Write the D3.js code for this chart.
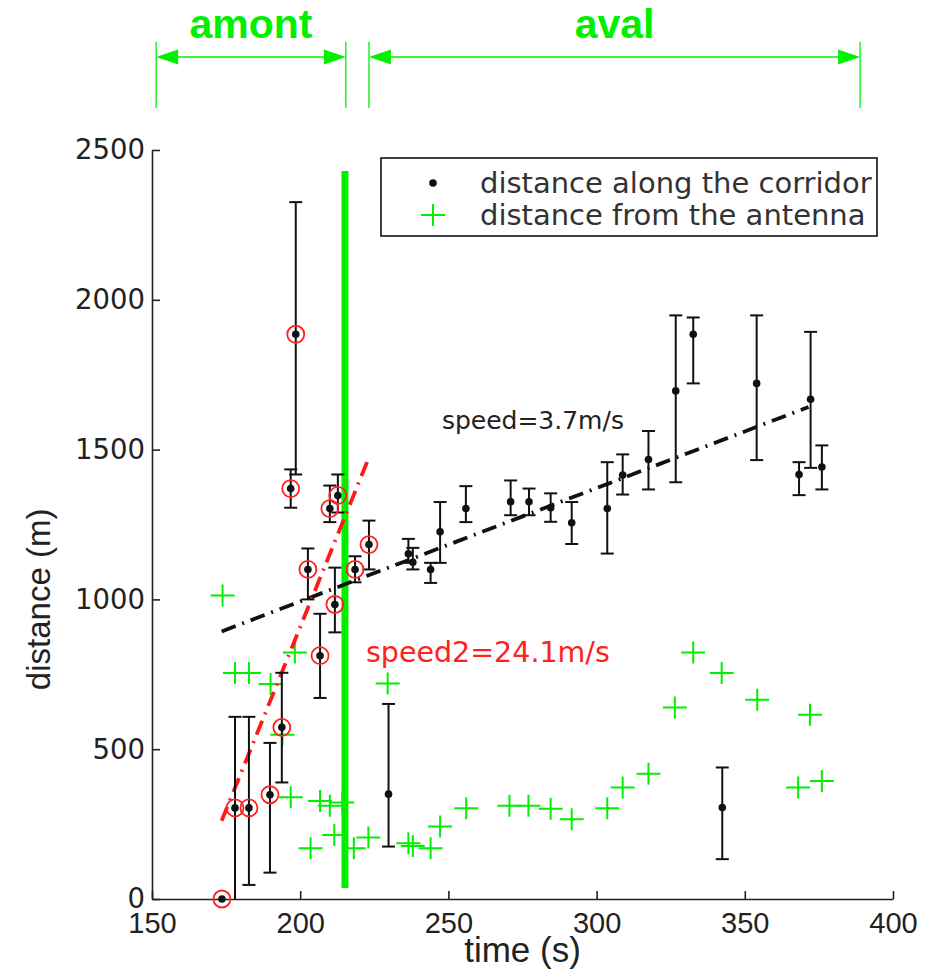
<!DOCTYPE html>
<html><head><meta charset="utf-8">
<script src="https://cdn.jsdelivr.net/npm/d3@7"></script>
<style>body{margin:0;background:#fff}svg{display:block}</style>
</head><body>
<script>
// ---- data ----
const corridorTime = [173.6,178,182.7,189.8,193.8,196.8,198.5,202.6,206.7,210,211.7,212.7,218.5,223.2,229.8,236.5,238,244,247.2,255.9,271,277.2,284.5,291.6,303.6,308.8,317.5,326.7,332.6,342.4,354,368.3,372.2,376];
const corridorDist = [0,304,304,348,573,1370,1885,1100,812,1303,983,1347,1100,1183,350,1152,1124,1100,1226,1303,1326,1326,1306,1256,1303,1415,1467,1696,1885,305,1721,1417,1668,1442];
const errHigh = [0,608,608,521,755,1434,2326,1170,952,1380,1106,1417,1144,1263,651,1202,1172,1122,1325,1378,1397,1370,1354,1325,1458,1484,1562,1948,1941,439,1948,1458,1893,1514];
const errLow  = [0,0,47,88,389,1306,1417,1000,671,1258,890,1290,1057,1100,175,1122,1100,1055,1122,1258,1281,1281,1259,1185,1153,1350,1367,1391,1721,133,1465,1348,1439,1367];
const circledCount = 14;
const antennaTime = [173.8,178,182.7,190,194,196.8,198.2,203.5,206.7,210,211.5,214.2,218.1,223,229.5,236.5,238,244,247.2,256,270.6,277,284.5,291.6,303.6,308.8,317.5,326.4,332.6,342.2,354.2,368,372,376];
const antennaDist = [1013,754,754,718,548,340,823,169,327,311,214,322,169,205,719,186,177,169,242,303,311,311,301,266,303,372,418,639,823,754,665,372,615,394];
const fitTime = [173.5, 371.5];
const fitDist = [893, 1642];
const fit2Time = [173.5, 223];
const fit2Dist = [261, 1469];
const zoneNames = ["amont", "aval"];
const zoneStart = [151.4, 223.2];
const zoneEnd = [215.4, 388.9];
const boundaryTime = 215.1;
const boundaryDist = [37, 2430];
const xTicks = [150, 200, 250, 300, 350, 400];
const yTicks = [0, 500, 1000, 1500, 2000, 2500];
const legendLabels = ["distance along the corridor", "distance from the antenna"];
const fitLabel = "speed=3.7m/s";
const fit2Label = "speed2=24.1m/s";
const fitLabelPos = [247.8, 1568];
const fit2LabelPos = [222.2, 791];

// ---- chart ----
const W = 930, H = 974;
const GREEN = "#00f000";
const svg = d3.select("body").append("svg").attr("width", W).attr("height", H);
const x = d3.scaleLinear().domain([150, 400]).range([152, 893]);
const y = d3.scaleLinear().domain([0, 2500]).range([899, 150]);

// zones on top
const zones = zoneNames.map((n, i) => ({name: n, s: zoneStart[i], e: zoneEnd[i]}));
const zg = svg.append("g");
zones.forEach(z => {
  const xs = x(z.s), xe = x(z.e), ay = 57;
  [xs, xe].forEach(xx => zg.append("line").attr("x1", xx).attr("x2", xx).attr("y1", 42).attr("y2", 108)
    .attr("stroke", GREEN).attr("stroke-width", 1.3));
  zg.append("line").attr("x1", xs + 10).attr("x2", xe - 10).attr("y1", ay).attr("y2", ay)
    .attr("stroke", GREEN).attr("stroke-width", 1.3);
  zg.append("path").attr("d", `M${xs},${ay}L${xs+22},${ay-7.5}L${xs+22},${ay+7.5}Z`).attr("fill", GREEN);
  zg.append("path").attr("d", `M${xe},${ay}L${xe-22},${ay-7.5}L${xe-22},${ay+7.5}Z`).attr("fill", GREEN);
  zg.append("text").attr("x", (xs + xe) / 2).attr("y", 38).attr("text-anchor", "middle")
    .attr("font-family", "Liberation Sans, Arial, sans-serif").attr("font-weight", "bold")
    .attr("font-size", 41).attr("fill", GREEN).text(z.name);
});

// axes
const axCol = "#222";
const gy = svg.append("g").attr("transform", `translate(${x(150)},0)`)
  .call(d3.axisLeft(y).tickValues(yTicks).tickSize(-8).tickSizeOuter(0).tickPadding(7).tickFormat(d3.format("d")));
gy.selectAll("text").attr("font-family", "DejaVu Sans, sans-serif").attr("font-size", 27.5).attr("fill", axCol);
const gx = svg.append("g").attr("transform", `translate(0,${y(0)})`)
  .call(d3.axisBottom(x).tickValues(xTicks).tickSize(-8).tickSizeOuter(0).tickPadding(13).tickFormat(d3.format("d")));
gx.selectAll("text").attr("font-family", "Liberation Sans, Arial, sans-serif").attr("font-size", 29).attr("fill", axCol);
svg.selectAll(".domain, .tick line").attr("stroke", axCol).attr("stroke-width", 1.6);

svg.append("text").attr("x", x(275)).attr("y", 962).attr("text-anchor", "middle")
  .attr("font-family", "Liberation Sans, Arial, sans-serif").attr("font-size", 35).attr("fill", axCol).text("time (s)");
svg.append("text").attr("transform", `translate(50,${y(1000)}) rotate(-90)`).attr("text-anchor", "middle")
  .attr("font-family", "Liberation Sans, Arial, sans-serif").attr("font-size", 33).attr("fill", axCol).text("distance (m)");

// boundary line
svg.append("line").attr("x1", x(boundaryTime)).attr("x2", x(boundaryTime))
  .attr("y1", y(boundaryDist[0])).attr("y2", y(boundaryDist[1])).attr("stroke", GREEN).attr("stroke-width", 7);

// antenna pluses
const plusPath = "M-12,0H12M0,-11V11";
svg.append("g").selectAll("path").data(antennaTime.map((t, i) => [t, antennaDist[i]])).join("path")
  .attr("transform", d => `translate(${x(d[0])},${y(d[1])})`).attr("d", plusPath)
  .attr("stroke", GREEN).attr("stroke-width", 2).attr("fill", "none");

// fit lines
const line = d3.line().x(d => x(d[0])).y(d => y(d[1]));
svg.append("path").datum(fitTime.map((t, i) => [t, fitDist[i]])).attr("d", line)
  .attr("stroke", "#111").attr("stroke-width", 3.8).attr("fill", "none").attr("stroke-dasharray", "15,7,2,7");
svg.append("path").datum(fit2Time.map((t, i) => [t, fit2Dist[i]])).attr("d", line)
  .attr("stroke", "#ff1a1a").attr("stroke-width", 3.8).attr("fill", "none").attr("stroke-dasharray", "15,7,2,7");

// error bars & points
const pts = corridorTime.map((t, i) => ({t, d: corridorDist[i], lo: errLow[i], hi: errHigh[i], c: i < circledCount}));
const eb = svg.append("g").attr("stroke", "#111").attr("stroke-width", 2);
pts.filter(p => p.hi > p.lo).forEach(p => {
  const cx = x(p.t);
  eb.append("line").attr("x1", cx).attr("x2", cx).attr("y1", y(p.lo)).attr("y2", y(p.hi));
  eb.append("line").attr("x1", cx - 6.5).attr("x2", cx + 6.5).attr("y1", y(p.hi)).attr("y2", y(p.hi));
  if (p.lo > 0) eb.append("line").attr("x1", cx - 6.5).attr("x2", cx + 6.5).attr("y1", y(p.lo)).attr("y2", y(p.lo));
});
svg.append("g").selectAll("circle").data(pts.filter(p => p.c)).join("circle")
  .attr("cx", p => x(p.t)).attr("cy", p => y(p.d)).attr("r", 8.5)
  .attr("fill", "none").attr("stroke", "#ff2020").attr("stroke-width", 1.8);
svg.append("g").selectAll("circle").data(pts).join("circle")
  .attr("cx", p => x(p.t)).attr("cy", p => y(p.d)).attr("r", 3.8).attr("fill", "#111");

// speed labels
svg.append("text").attr("x", x(fitLabelPos[0])).attr("y", y(fitLabelPos[1]))
  .attr("font-family", "DejaVu Sans, sans-serif").attr("font-size", 25).attr("fill", "#222").text(fitLabel);
svg.append("text").attr("x", x(fit2LabelPos[0])).attr("y", y(fit2LabelPos[1]))
  .attr("font-family", "DejaVu Sans, sans-serif").attr("font-size", 28.5).attr("fill", "#ff2020").text(fit2Label);

// legend
const lg = svg.append("g").attr("transform", "translate(381,158)");
lg.append("rect").attr("width", 496).attr("height", 78).attr("fill", "#fff").attr("stroke", "#111").attr("stroke-width", 1.6);
lg.append("circle").attr("cx", 52).attr("cy", 25).attr("r", 3.8).attr("fill", "#111");
lg.append("path").attr("transform", "translate(52,57)").attr("d", plusPath).attr("stroke", GREEN).attr("stroke-width", 2);
legendLabels.forEach((t, i) => lg.append("text").attr("x", 99).attr("y", 35 + i * 32)
  .attr("font-family", "DejaVu Sans, sans-serif").attr("font-size", 29).attr("fill", "#333").text(t));
</script>
</body></html>
